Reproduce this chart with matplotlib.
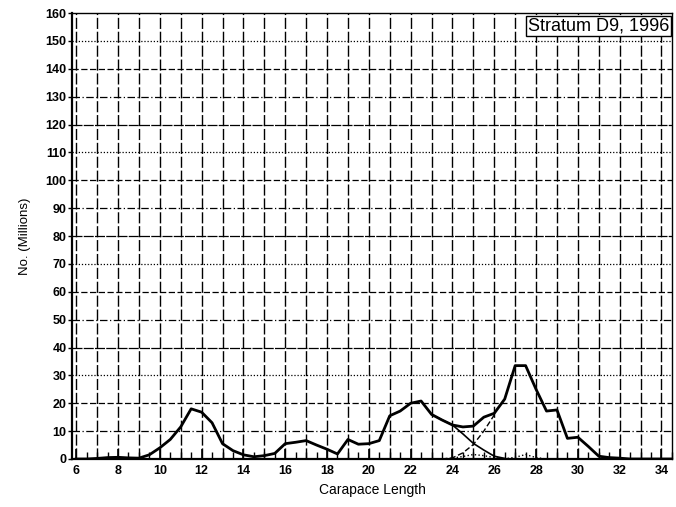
import matplotlib
matplotlib.use('Agg')
import matplotlib.pyplot as plt
from matplotlib.ticker import MultipleLocator

plt.rcParams['font.family'] = ['Liberation Sans', 'DejaVu Sans']

# carapace length classes (0.5 mm steps) and total numbers (millions)
lengths = [6.0, 6.5, 7.0, 7.5, 8.0, 8.5, 9.0, 9.5, 10.0, 10.5, 11.0, 11.5,
           12.0, 12.5, 13.0, 13.5, 14.0, 14.5, 15.0, 15.5, 16.0, 16.5, 17.0,
           17.5, 18.0, 18.5, 19.0, 19.5, 20.0, 20.5, 21.0, 21.5, 22.0, 22.5,
           23.0, 23.5, 24.0, 24.5, 25.0, 25.5, 26.0, 26.5, 27.0, 27.5, 28.0,
           28.5, 29.0, 29.5, 30.0, 30.5, 31.0, 31.5, 32.0, 32.5, 33.0, 33.5,
           34.0, 34.5]
total = [0.0, 0.0, 0.2, 0.5, 0.6, 0.4, 0.3, 1.5, 4.0, 7.0, 11.5, 18.0,
         16.8, 13.0, 5.5, 3.0, 1.5, 0.8, 1.2, 2.0, 5.5, 6.0, 6.6,
         5.0, 3.5, 1.8, 7.0, 5.3, 5.5, 6.6, 15.5, 17.2, 20.0, 20.8,
         16.0, 14.0, 12.2, 11.5, 11.8, 15.0, 16.4, 21.5, 33.5, 33.5, 25.0,
         17.2, 17.6, 7.4, 7.8, 4.5, 1.0, 0.5, 0.3, 0.0, 0.0, 0.0,
         0.0, 0.0]

# fitted components
comp_a_x = [23.0, 23.5, 24.0, 24.5, 25.0, 25.5, 26.0, 26.5]
comp_a_y = [16.0, 14.0, 12.2, 9.0, 5.6, 3.2, 1.0, 0.2]
comp_b_x = [23.5, 24.0, 24.5, 25.0, 25.5, 26.0]
comp_b_y = [0.0, 0.4, 2.2, 5.2, 10.0, 15.8]
comp_c_x = [23.5, 24.0, 24.5, 25.0, 25.5, 26.0, 26.5, 27.0, 27.5, 28.0, 28.5]
comp_c_y = [0.0, 0.3, 0.9, 1.6, 1.2, 0.5, 0.1, 0.6, 1.6, 0.5, 0.0]

fig = plt.figure(figsize=(6.76, 5.07), dpi=100)
ax = fig.add_axes([0.1065, 0.0947, 0.8875, 0.8795])

ax.plot(lengths, total, color='black', lw=2.0, zorder=5)
ax.plot(comp_a_x, comp_a_y, color='black', lw=1.2, zorder=4)
ax.plot(comp_b_x, comp_b_y, color='black', lw=1.0, ls=(0, (4, 2)), zorder=4)
ax.plot(comp_c_x, comp_c_y, color='black', lw=1.0, ls=':', zorder=4)

ax.set_xlim(5.8, 34.5)
ax.set_ylim(0, 160)
ax.xaxis.set_major_locator(MultipleLocator(2))
ax.xaxis.set_minor_locator(MultipleLocator(0.5))
ax.yaxis.set_major_locator(MultipleLocator(10))

# grid: vertical every 1 mm, horizontal every 10
for x in range(6, 35):
    ax.axvline(x, color='black', lw=1.0, ls=(0, (8, 2)), zorder=1)
hstyles = [(0, (6, 2, 1, 2)), (0, (5, 2)), (0, (1, 1.5)), (0, (8, 1))]
for i, y in enumerate(range(10, 160, 10)):
    ax.axhline(y, color='black', lw=0.9, ls=hstyles[i % 4], zorder=1)

ax.tick_params(axis='x', which='major', direction='in', length=7, width=1.2,
               labelsize=9, pad=4)
ax.tick_params(axis='x', which='minor', direction='in', length=5, width=1.0)
ax.tick_params(axis='y', which='major', direction='out', length=3, width=1.0,
               labelsize=9, pad=1)
for lab in ax.get_xticklabels() + ax.get_yticklabels():
    lab.set_fontweight('bold')

for s in ax.spines.values():
    s.set_linewidth(1.0)
ax.spines['left'].set_linewidth(1.6)
ax.spines['bottom'].set_linewidth(1.6)

ax.set_xlabel('Carapace Length', fontsize=10, labelpad=5)
ax.set_ylabel('No. (Millions)', fontsize=9.5, labelpad=10)

ax.text(0.995, 0.99, 'Stratum D9, 1996', transform=ax.transAxes,
        ha='right', va='top', fontsize=13, zorder=6,
        bbox=dict(boxstyle='square,pad=0.1', facecolor='white',
                  edgecolor='black', lw=1.0))

fig.savefig('out.png', dpi=100)
